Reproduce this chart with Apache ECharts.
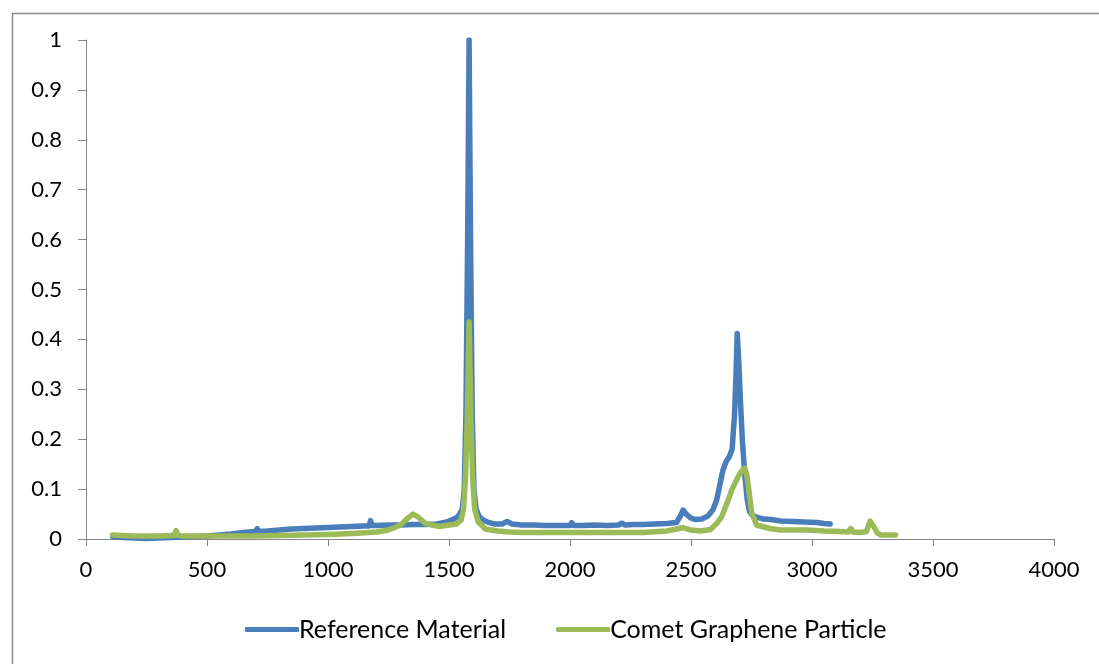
<!DOCTYPE html>
<html>
<head>
<meta charset="utf-8">
<script src="https://cdn.jsdelivr.net/npm/echarts@6/dist/echarts.min.js"></script>
<style>
html,body{margin:0;padding:0;background:#fff;}
#chart{width:1099px;height:664px;}
</style>
</head>
<body>
<div id="chart"></div>
<script>
// Raman shift (x) and normalised intensity (y)
const seriesNames = ["Reference Material", "Comet Graphene Particle"];

const refX = [110,150,200,250,300,350,400,450,500,550,600,650,700,707,715,750,800,850,900,950,1000,1050,1100,1150,1170,1176,1182,1200,1250,1300,1350,1400,1450,1480,1500,1520,1540,1555,1563,1570,1577,1583,1589,1596,1603,1612,1625,1640,1660,1690,1720,1740,1760,1800,1850,1900,1950,2000,2007,2015,2050,2100,2150,2200,2214,2228,2260,2300,2350,2400,2440,2455,2467,2480,2500,2520,2545,2570,2590,2606,2620,2632,2645,2658,2670,2680,2686,2691,2697,2704,2712,2722,2732,2742,2752,2771,2800,2830,2870,2920,2970,3020,3050,3075];
const refY = [0.005,0.003,0.002,0.001,0.002,0.003,0.004,0.005,0.006,0.008,0.010,0.013,0.015,0.021,0.015,0.016,0.018,0.020,0.021,0.022,0.023,0.024,0.025,0.026,0.026,0.037,0.027,0.027,0.028,0.028,0.029,0.029,0.030,0.033,0.036,0.040,0.046,0.060,0.100,0.250,0.600,1.000,0.600,0.250,0.100,0.060,0.045,0.038,0.034,0.030,0.030,0.035,0.030,0.028,0.028,0.027,0.027,0.027,0.033,0.027,0.027,0.028,0.027,0.028,0.032,0.028,0.029,0.029,0.030,0.031,0.033,0.045,0.058,0.050,0.042,0.039,0.040,0.046,0.058,0.078,0.110,0.138,0.155,0.165,0.180,0.250,0.330,0.412,0.360,0.280,0.200,0.130,0.080,0.055,0.048,0.044,0.040,0.039,0.036,0.035,0.034,0.033,0.031,0.030];

const cometX = [110,150,200,250,300,350,365,372,380,400,450,500,550,600,700,800,900,1000,1100,1200,1250,1300,1330,1351,1370,1400,1430,1460,1500,1530,1550,1560,1568,1576,1583,1590,1598,1606,1620,1650,1700,1750,1800,1900,2000,2100,2200,2300,2400,2440,2467,2500,2540,2580,2606,2627,2654,2668,2680,2695,2710,2722,2730,2737,2745,2751,2771,2826,2870,2978,3050,3116,3150,3160,3170,3200,3225,3240,3255,3270,3285,3345];
const cometY = [0.008,0.007,0.006,0.006,0.006,0.007,0.007,0.017,0.007,0.006,0.006,0.006,0.006,0.006,0.006,0.007,0.008,0.009,0.011,0.014,0.018,0.028,0.042,0.050,0.045,0.032,0.028,0.025,0.028,0.030,0.038,0.060,0.120,0.250,0.435,0.250,0.120,0.060,0.035,0.020,0.016,0.014,0.013,0.013,0.013,0.013,0.013,0.013,0.016,0.020,0.023,0.018,0.016,0.019,0.031,0.045,0.078,0.098,0.110,0.125,0.137,0.142,0.130,0.105,0.075,0.052,0.028,0.021,0.018,0.018,0.016,0.015,0.014,0.021,0.014,0.013,0.015,0.036,0.025,0.012,0.008,0.008];

const xTicks = {min: 0, max: 4000, interval: 500};
const yTicks = {min: 0, max: 1, interval: 0.1};

const pair = (xs, ys) => xs.map((x, i) => [x, ys[i]]);
const axisGray = '#868686';
const font = 'Lato, "Liberation Sans", sans-serif';

const chart = echarts.init(document.getElementById('chart'), null, {renderer: 'canvas'});
chart.setOption({
  animation: false,
  backgroundColor: '#fff',
  graphic: [{
    type: 'rect', left: 10, top: 11,
    shape: {x: 0, y: 0, width: 1200, height: 800},
    style: {fill: 'none', stroke: '#8a8a8a', lineWidth: 1.5}, silent: true
  }],
  grid: {left: 86, top: 40, right: 45, bottom: 125, containLabel: false},
  xAxis: {
    type: 'value', min: xTicks.min, max: xTicks.max, interval: xTicks.interval,
    axisLine: {show: true, onZero: false, lineStyle: {color: axisGray, width: 1}},
    axisTick: {show: true, length: 7, lineStyle: {color: axisGray}},
    splitLine: {show: false},
    axisLabel: {color: '#000', fontFamily: font, fontSize: 22, margin: 20,
      formatter: v => String(v)}
  },
  yAxis: {
    type: 'value', min: yTicks.min, max: yTicks.max, interval: yTicks.interval,
    axisLine: {show: true, lineStyle: {color: axisGray, width: 1}},
    axisTick: {show: true, length: 8, lineStyle: {color: axisGray}},
    splitLine: {show: false},
    axisLabel: {color: '#000', fontFamily: font, fontSize: 22, margin: 24,
      formatter: v => String(Math.round(v * 10) / 10)}
  },
  legend: {
    left: 240, top: 612, padding: 5,
    itemWidth: 54, itemHeight: 5, itemGap: 50,
    icon: 'roundRect',
    textStyle: {color: '#000', fontFamily: font, fontSize: 25, padding: [0, 0, 0, -5]},
    data: seriesNames
  },
  series: [
    {
      name: seriesNames[0], type: 'line', data: pair(refX, refY),
      showSymbol: false, symbol: 'none', smooth: false,
      lineStyle: {color: '#4A7EBB', width: 5.5, cap: 'round', join: 'round'},
      itemStyle: {color: '#4A7EBB'}
    },
    {
      name: seriesNames[1], type: 'line', data: pair(cometX, cometY),
      showSymbol: false, symbol: 'none', smooth: false,
      lineStyle: {color: '#9BBB59', width: 5.5, cap: 'round', join: 'round'},
      itemStyle: {color: '#9BBB59'}
    }
  ]
});
</script>
</body>
</html>
